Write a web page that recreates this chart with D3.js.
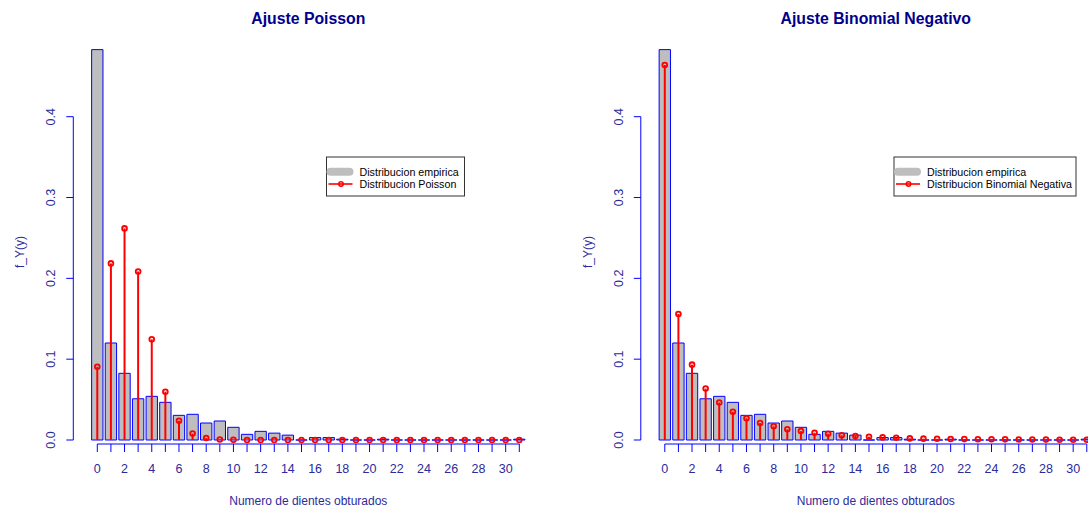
<!DOCTYPE html>
<html>
<head>
<meta charset="utf-8">
<script src="https://cdn.jsdelivr.net/npm/d3@7"></script>
<style>
  html, body { margin: 0; padding: 0; background: #fff; }
  svg { display: block; font-family: "Liberation Sans", Arial, sans-serif; }
</style>
</head>
<body>
<svg id="chart" width="1088" height="510"></svg>
<script>
// Number of filled teeth: observed relative frequencies vs. fitted models
const categories = [0, 1, 2, 3, 4, 5, 6, 7, 8, 9, 10, 11, 12, 13, 14, 15,
                    16, 17, 18, 19, 20, 21, 22, 23, 24, 25, 26, 27, 28, 29, 30, 31];

const empirical = [0.483, 0.120, 0.0825, 0.051, 0.054, 0.0466, 0.0305, 0.0318,
                   0.021, 0.0235, 0.0157, 0.007, 0.0107, 0.0085, 0.006, 0,
                   0.003, 0.003, 0.001, 0, 0, 0.001, 0, 0,
                   0, 0, 0, 0, 0, 0, 0, 0.001];

const poisson = [0.0907, 0.2185, 0.2618, 0.2085, 0.1245, 0.0597, 0.0238, 0.0080,
                 0.0024, 0.0007, 0.0002, 0, 0, 0, 0, 0,
                 0, 0, 0, 0, 0, 0, 0, 0,
                 0, 0, 0, 0, 0, 0, 0, 0];

const negBinomial = [0.4639, 0.1559, 0.0932, 0.0637, 0.0464, 0.0350, 0.0268, 0.0211,
                     0.0169, 0.0133, 0.0110, 0.0090, 0.0077, 0.0058, 0.0050, 0.0041,
                     0.0032, 0.0028, 0.0020, 0.0017, 0.0015, 0.0012, 0.0011, 0.0010,
                     0.0009, 0.0008, 0.0007, 0.0006, 0.0005, 0.0004, 0.0004, 0.0003];

const yTicks = [0, 0.1, 0.2, 0.3, 0.4];
const xTickLabels = [0, 2, 4, 6, 8, 10, 12, 14, 16, 18, 20, 22, 24, 26, 28, 30];

const titles = ["Ajuste Poisson", "Ajuste Binomial Negativo"];
const fitLabels = ["Distribucion Poisson", "Distribucion Binomial Negativa"];
const empiricalLabel = "Distribucion empirica";
const xLabel = "Numero de dientes obturados";
const yLabel = "f_Y(y)";

const svg = d3.select("#chart");

const BLUE = "#0000ff";
const BAR_FILL = "#bebebe";
const TEXT_BLUE = "#2b2b9c";
const TITLE_BLUE = "#00008b";

function drawPanel(dx, title, fit, fitLabel, legendWidth) {
  const g = svg.append("g").attr("transform", `translate(${dx},0)`);

  const x = d3.scaleLinear().domain([0, 31]).range([97.3, 519.3]);
  const y = d3.scaleLinear().domain([0, 0.4]).range([440, 116.7]);
  const barW = (x(1) - x(0)) / 1.2;

  // empirical bars (zero-height ones still show their border)
  g.append("g").selectAll("path")
    .data(categories)
    .join("path")
    .attr("d", (c, i) => {
      const x0 = x(c) - barW / 2, x1 = x(c) + barW / 2;
      const y0 = y(0), y1 = y(empirical[i]);
      return `M${x0},${y0}H${x1}V${y1}H${x0}Z`;
    })
    .attr("fill", BAR_FILL)
    .attr("stroke", BLUE)
    .attr("stroke-width", 1);

  // fitted probabilities as stems with open circles
  g.append("g").selectAll("line")
    .data(categories)
    .join("line")
    .attr("x1", c => x(c)).attr("x2", c => x(c))
    .attr("y1", y(0)).attr("y2", (c, i) => y(fit[i]))
    .attr("stroke", "#ff0000").attr("stroke-width", 2);

  g.append("g").selectAll("circle")
    .data(categories)
    .join("circle")
    .attr("cx", c => x(c)).attr("cy", (c, i) => y(fit[i]))
    .attr("r", 2.4)
    .attr("fill", "none")
    .attr("stroke", "#ff0000").attr("stroke-width", 1.8);

  // x axis
  const xAxisY = 444;
  const xa = g.append("g").attr("transform", `translate(0,${xAxisY})`);
  xa.append("line")
    .attr("x1", x(0)).attr("x2", x(31)).attr("y1", 0).attr("y2", 0)
    .attr("stroke", BLUE).attr("stroke-width", 1);
  xa.selectAll("line.tick")
    .data(categories)
    .join("line").attr("class", "tick")
    .attr("x1", c => x(c)).attr("x2", c => x(c))
    .attr("y1", 0).attr("y2", 8)
    .attr("stroke", BLUE).attr("stroke-width", 1);
  xa.selectAll("text")
    .data(xTickLabels)
    .join("text")
    .attr("x", c => x(c)).attr("y", 29)
    .attr("text-anchor", "middle")
    .attr("font-size", "12.5px")
    .attr("fill", TEXT_BLUE)
    .text(d => d);

  // y axis
  const axisX = 73.3;
  const ya = g.append("g");
  ya.append("line")
    .attr("x1", axisX).attr("x2", axisX).attr("y1", y(0)).attr("y2", y(0.4))
    .attr("stroke", BLUE).attr("stroke-width", 1);
  ya.selectAll("line.tick")
    .data(yTicks)
    .join("line").attr("class", "tick")
    .attr("x1", axisX).attr("x2", axisX - 7)
    .attr("y1", d => y(d)).attr("y2", d => y(d))
    .attr("stroke", BLUE).attr("stroke-width", 1);
  ya.selectAll("text")
    .data(yTicks)
    .join("text")
    .attr("transform", d => `translate(55,${y(d)}) rotate(-90)`)
    .attr("text-anchor", "middle")
    .attr("font-size", "12.5px")
    .attr("fill", TEXT_BLUE)
    .text(d => d.toFixed(1));

  // axis titles
  g.append("text")
    .attr("transform", `translate(24,252) rotate(-90)`)
    .attr("text-anchor", "middle")
    .attr("font-size", "12px")
    .attr("fill", TEXT_BLUE)
    .text(yLabel);

  g.append("text")
    .attr("x", 308.3).attr("y", 504.5)
    .attr("text-anchor", "middle")
    .attr("font-size", "12px")
    .attr("fill", TEXT_BLUE)
    .text(xLabel);

  // panel title
  g.append("text")
    .attr("x", 308.3).attr("y", 24)
    .attr("text-anchor", "middle")
    .attr("font-size", "15.8px")
    .attr("font-weight", "bold")
    .attr("fill", TITLE_BLUE)
    .text(title);

  // legend
  const lg = g.append("g").attr("transform", "translate(326.5,157)");
  lg.append("rect")
    .attr("x", 0).attr("y", 0).attr("width", legendWidth).attr("height", 39)
    .attr("fill", "#fff").attr("stroke", "#333").attr("stroke-width", 1);
  lg.append("line")
    .attr("x1", 4).attr("x2", 23).attr("y1", 14.7).attr("y2", 14.7)
    .attr("stroke", BAR_FILL).attr("stroke-width", 8).attr("stroke-linecap", "round");
  lg.append("line")
    .attr("x1", 2).attr("x2", 26).attr("y1", 27).attr("y2", 27)
    .attr("stroke", "#ff0000").attr("stroke-width", 1.6);
  lg.append("circle")
    .attr("cx", 14.5).attr("cy", 27).attr("r", 2.2)
    .attr("fill", "none").attr("stroke", "#ff0000").attr("stroke-width", 1.5);
  lg.append("text")
    .attr("x", 33).attr("y", 18.7)
    .attr("font-size", "10.7px").attr("fill", "#000")
    .text(empiricalLabel);
  lg.append("text")
    .attr("x", 33).attr("y", 31)
    .attr("font-size", "10.7px").attr("fill", "#000")
    .text(fitLabel);
}

drawPanel(0, titles[0], poisson, fitLabels[0], 138);
drawPanel(567.5, titles[1], negBinomial, fitLabels[1], 182);
</script>
</body>
</html>
